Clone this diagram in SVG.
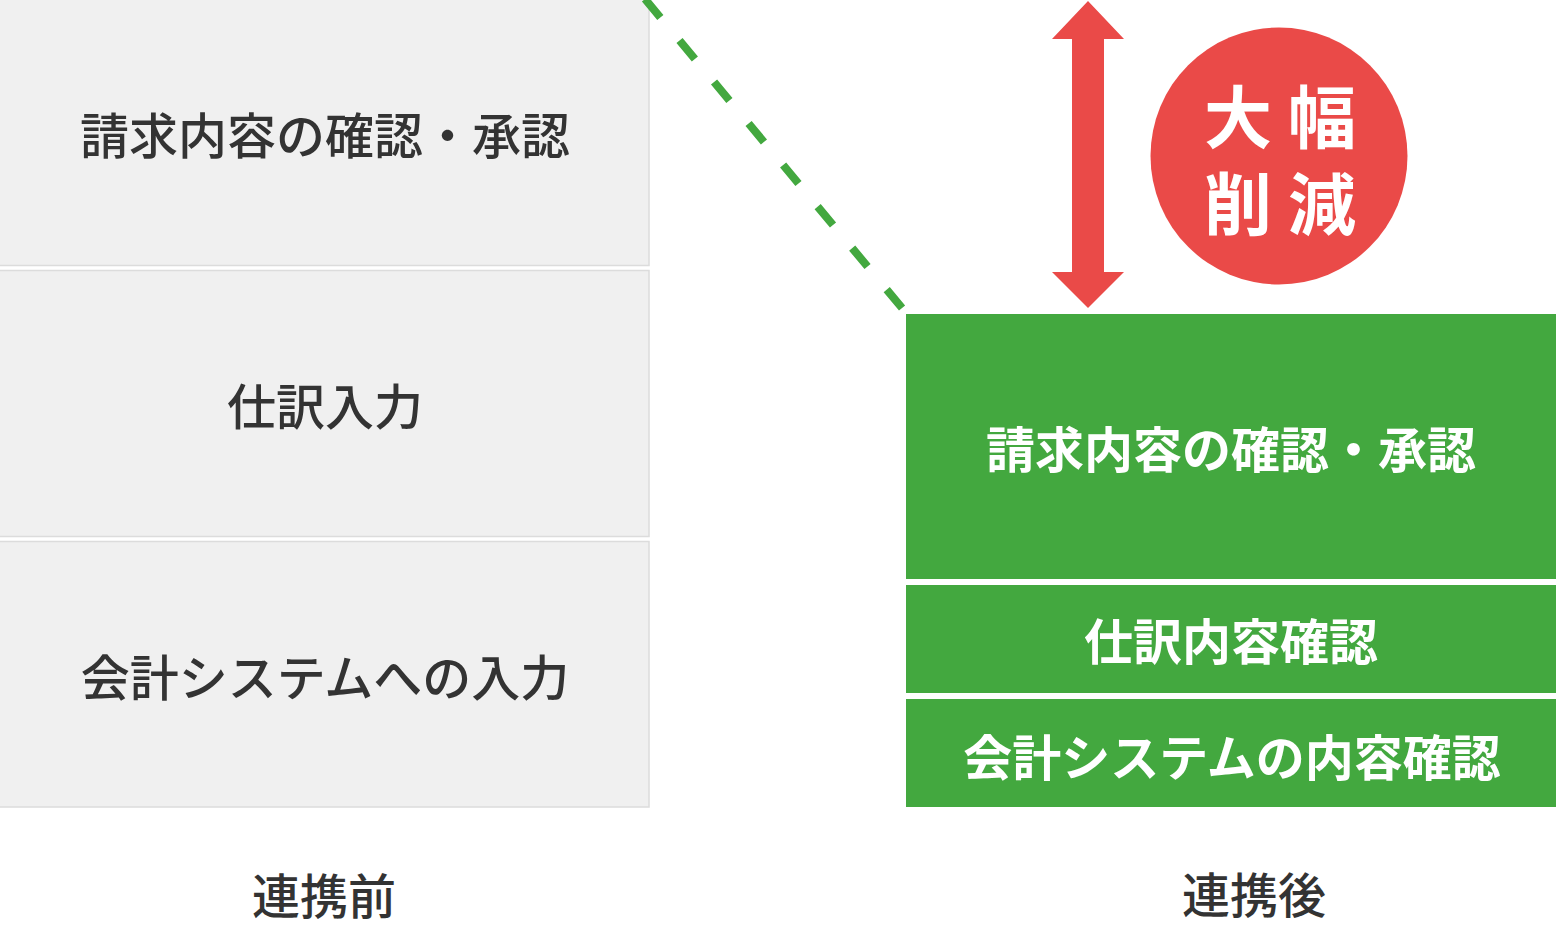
<svg xmlns="http://www.w3.org/2000/svg" width="1556" height="930" viewBox="0 0 1556 930">
  <style>
    text { font-family: "Noto Sans CJK JP", "Noto Sans", sans-serif; text-anchor: middle; dominant-baseline: central; }
    .before rect { fill: #f0f0f0; stroke: #dcdcdc; stroke-width: 1.5; }
    .before text { fill: #333333; font-size: 49px; font-weight: 500; }
    .after rect { fill: #43a83f; }
    .after text { fill: #ffffff; font-size: 49px; font-weight: 700; }
    .label { fill: #333333; font-size: 48px; font-weight: 500; }
    .badge text { fill: #ffffff; font-size: 68px; font-weight: 700; letter-spacing: 16px; }
  </style>
  <rect width="1556" height="930" fill="#ffffff"/>

  <g id="before-1" class="before">
    <rect x="-2" y="-2" width="651" height="267.5"/>
    <text x="325" y="132">請求内容の確認・承認</text>
  </g>
  <g id="before-2" class="before">
    <rect x="-2" y="270.5" width="651" height="266"/>
    <text x="325" y="403">仕訳入力</text>
  </g>
  <g id="before-3" class="before">
    <rect x="-2" y="541.5" width="651" height="265.5"/>
    <text x="325" y="674">会計システムへの入力</text>
  </g>

  <g id="after-1" class="after">
    <rect x="906" y="314" width="652" height="265"/>
    <text x="1231" y="446">請求内容の確認・承認</text>
  </g>
  <g id="after-2" class="after">
    <rect x="906" y="585" width="652" height="108"/>
    <text x="1231" y="638">仕訳内容確認</text>
  </g>
  <g id="after-3" class="after">
    <rect x="906" y="699" width="652" height="108"/>
    <text x="1232" y="754">会計システムの内容確認</text>
  </g>

  <g id="badge" class="badge">
    <circle cx="1279" cy="156" r="128.5" fill="#ea4a48"/>
    <text x="1288" y="113"><tspan x="1288" y="113">大幅</tspan><tspan x="1288" y="200">削減</tspan></text>
  </g>

  <g id="connectors">
    <line x1="645" y1="-1" x2="907" y2="314" stroke="#43a83f" stroke-width="8" stroke-dasharray="24 30"/>
    <polygon points="1088,1 1124,39 1104,39 1104,272 1124,272 1088,308 1052,272 1072,272 1072,39 1052,39" fill="#ea4a48"/>
  </g>

  <g id="labels">
    <text class="label" x="324" y="893">連携前</text>
    <text class="label" x="1254" y="892">連携後</text>
  </g>
</svg>
